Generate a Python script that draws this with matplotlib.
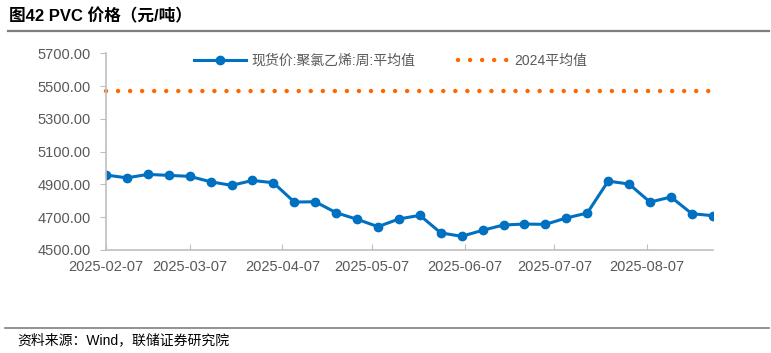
import numpy as np
import matplotlib
matplotlib.use('Agg')
import matplotlib.pyplot as plt
from matplotlib.lines import Line2D

plt.rcParams['font.family'] = ['Liberation Sans', 'Noto Sans CJK SC', 'DejaVu Sans']

# weekly PVC spot prices, 2025-02-07 .. 2025-08-29
dates = np.arange(np.datetime64('2025-02-07'), np.datetime64('2025-08-30'), np.timedelta64(7, 'D'))
prices = [4957, 4940, 4961, 4955, 4949, 4916, 4894, 4924, 4910, 4792,
          4794, 4727, 4687, 4642, 4689, 4711, 4604, 4583, 4620, 4652,
          4658, 4656, 4695, 4725, 4920, 4902, 4792, 4823, 4721, 4709]
avg_2024 = 5470

series_label = '现货价:聚氯乙烯:周:平均值'
avg_label = '2024平均值'
tick_dates = ['2025-02-07', '2025-03-07', '2025-04-07', '2025-05-07',
              '2025-06-07', '2025-07-07', '2025-08-07']

blue = '#0070C0'
orange = '#FF6600'
gray = '#595959'

fig = plt.figure(figsize=(7.71, 3.53), dpi=100)
ax = fig.add_axes([0.1375, 0.292, 0.787, 0.557])

x = dates.astype('datetime64[D]').astype(object)
ax.plot(x, prices, color=blue, lw=2.2, marker='o', ms=6, label=series_label)
ax.plot([x[0], x[-1]], [avg_2024, avg_2024], color=orange, lw=3.2,
        linestyle=(0, (0.01, 2.7)), dash_capstyle='round', label=avg_label,
        clip_on=False)

ax.set_ylim(4500, 5700)
ax.set_yticks(np.arange(4500, 5701, 200))
ax.yaxis.set_major_formatter(plt.FuncFormatter(lambda v, p: f'{v:.2f}'))
ax.set_xlim(x[0], x[-1] + (x[1] - x[0]) * 0.08)
ax.set_xticks([np.datetime64(d).astype(object) for d in tick_dates])
ax.set_xticklabels(tick_dates)

for s in ['top', 'right']:
    ax.spines[s].set_visible(False)
for s in ['left', 'bottom']:
    ax.spines[s].set_color('#BFBFBF')
    ax.spines[s].set_linewidth(1.2)
ax.tick_params(axis='y', colors=gray, labelsize=10.5, length=4, color='#BFBFBF', pad=7)
ax.tick_params(axis='x', colors=gray, labelsize=10.5, length=4, direction='in',
               color='#BFBFBF', pad=7)

leg = ax.legend(loc='upper left', bbox_to_anchor=(0.125, 1.06), ncol=2, frameon=False,
                fontsize=10, handlelength=3.7, columnspacing=3.05, handletextpad=0.4)
for t in leg.get_texts():
    t.set_color(gray)

fig.text(0.012, 0.955, '图42 PVC 价格（元/吨）', fontsize=12, fontweight='bold',
         ha='left', va='center', color='black')
fig.add_artist(Line2D([0.01, 0.997], [0.912, 0.912], color='#7F7F7F', lw=1.6))
fig.add_artist(Line2D([0.006, 0.997], [0.071, 0.071], color='#7F7F7F', lw=1.2))
fig.text(0.022, 0.035, '资料来源：Wind，联储证券研究院', fontsize=10,
         ha='left', va='center', color='black')

fig.savefig('out.png', dpi=100)
